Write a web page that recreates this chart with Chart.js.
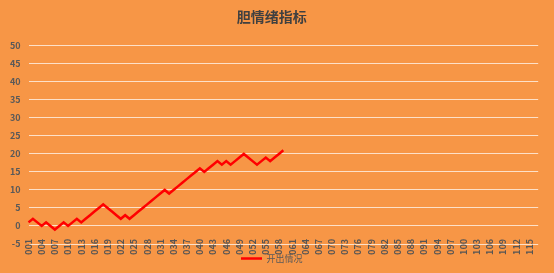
<!DOCTYPE html>
<html>
<head>
<meta charset="utf-8">
<script src="https://cdn.jsdelivr.net/npm/chart.js@4"></script>
<style>
html,body{margin:0;padding:0;background:#F79646;}
#wrap{width:554px;height:273px;}
</style>
</head>
<body>
<div id="wrap"><canvas id="c" width="554" height="273"></canvas></div>
<script>
const categoryCount = 117;
const categories = [];
for (let i = 1; i <= categoryCount; i++) categories.push(String(i).padStart(3, '0'));
const seriesName = '开出情况';
const seriesValues = [1,2,1,0,1,0,-1,0,1,0,1,2,1,2,3,4,5,6,5,4,3,2,3,2,3,4,5,6,7,8,9,10,9,10,11,12,13,14,15,16,15,16,17,18,17,18,17,18,19,20,19,18,17,18,19,18,19,20,21];
const yTicks = {min: -5, max: 50, step: 5};
const titleText = '胆情绪指标';

const FONT = "'Noto Sans CJK SC', 'Noto Sans', sans-serif";
new Chart(document.getElementById('c'), {
  type: 'line',
  data: {
    labels: categories,
    datasets: [{
      label: seriesName,
      data: seriesValues,
      borderColor: '#FF0000',
      backgroundColor: '#FF0000',
      borderWidth: 2.5,
      pointRadius: 0,
      tension: 0,
      fill: false
    }]
  },
  options: {
    responsive: false,
    animation: false,
    layout: {padding: {left: 0, right: 10.5, top: 0, bottom: 0}},
    plugins: {
      title: {
        display: true,
        text: titleText,
        color: '#404040',
        font: {family: FONT, size: 14, weight: 'bold'},
        padding: {top: 8, bottom: 21}
      },
      legend: {
        position: 'bottom',
        labels: {
          usePointStyle: true,
          pointStyle: 'line',
          pointStyleWidth: 21,
          boxHeight: 10,
          padding: 10,
          color: '#595959',
          font: {family: FONT, size: 9}
        }
      },
      tooltip: {enabled: false}
    },
    scales: {
      x: {
        position: {y: 0},
        grid: {display: false},
        border: {display: false},
        ticks: {
          autoSkip: false,
          minRotation: 90,
          maxRotation: 90,
          padding: 5,
          color: '#555555',
          font: {family: FONT, size: 9, weight: 'bold'},
          callback: function(v, i) { return i % 3 === 0 ? categories[i] : ''; }
        }
      },
      y: {
        min: yTicks.min,
        max: yTicks.max,
        border: {display: false},
        grid: {color: 'rgba(255,255,255,0.7)', lineWidth: 1, drawTicks: false},
        afterFit: function(s) { s.width = 28.5; },
        ticks: {
          stepSize: yTicks.step,
          padding: 8,
          color: '#595959',
          font: {family: FONT, size: 9, weight: 'bold'}
        }
      }
    }
  }
});
</script>
</body>
</html>
